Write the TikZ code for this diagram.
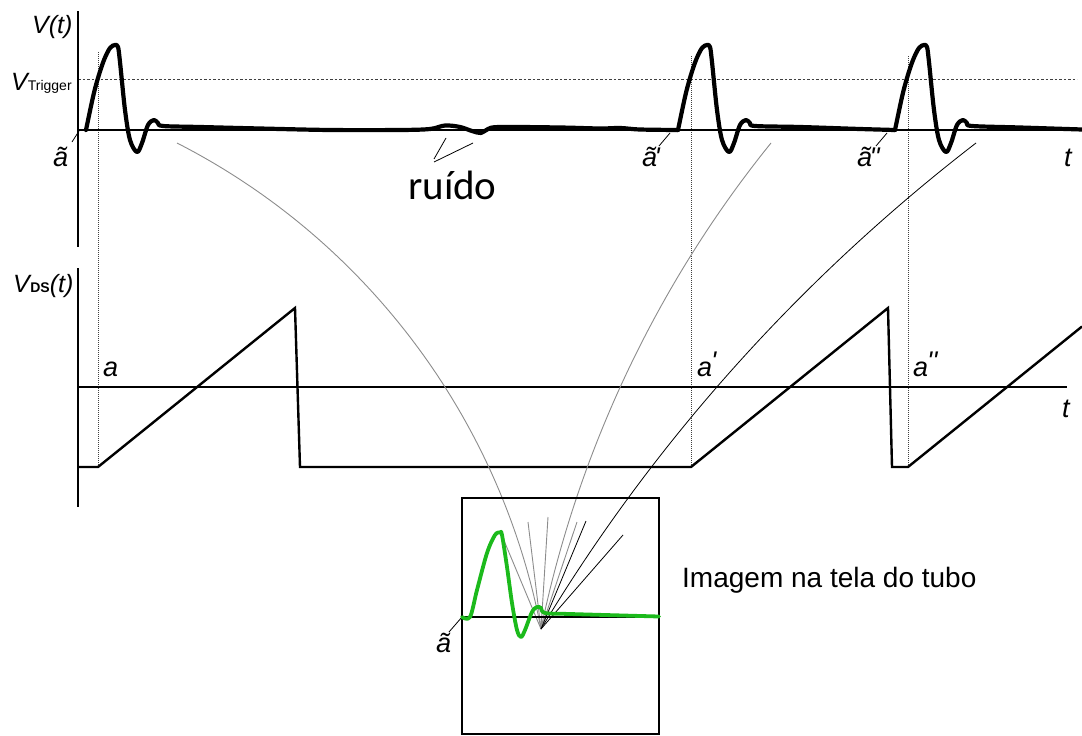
\documentclass[tikz,border=0pt]{standalone}
\usepackage{fontspec}
\setmainfont[Ligatures=TeXOff]{Liberation Sans}
\newfontfamily\ruidofont{Carlito}
\definecolor{scr}{RGB}{28,186,28}
\begin{document}
\begin{tikzpicture}[x=1pt,y=-1pt,
  axis/.style={line width=2pt},
  trace/.style={line width=4.2pt, line join=round, line cap=round},
  saw/.style={line width=2.4pt, line join=miter},
  guide/.style={line width=0.9pt, dash pattern=on 1pt off 1pt, black!75},
  trig/.style={line width=0.9pt, dash pattern=on 2.5pt off 2pt, black!75},
  ray/.style={line width=0.9pt, black!45},
  rayk/.style={line width=0.8pt, black},
  lead/.style={line width=0.8pt},
  lbl/.style={font=\fontsize{25}{25}\selectfont\itshape, inner sep=0pt, anchor=base west},
  lbs/.style={font=\fontsize{27}{27}\selectfont\itshape, inner sep=0pt, anchor=base west}
]
\useasboundingbox (0,0) rectangle (1082,736);
% guides
\coordinate (g1t) at (98,52);  \coordinate (g1b) at (98,467);
\coordinate (g2t) at (691,56); \coordinate (g2b) at (691,467);
\coordinate (g3t) at (908,56); \coordinate (g3b) at (908,467);
\draw[guide] (g1t) -- (g1b);
\draw[guide] (g2t) -- (g2b);
\draw[guide] (g3t) -- (g3b);
\coordinate (trL) at (78,79); \coordinate (trR) at (1077,79);
\draw[trig] (trL) -- (trR);
% axes
\coordinate (ax1t) at (78,11); \coordinate (ax1b) at (78,247);
\coordinate (ax1l) at (78,130); \coordinate (ax1r) at (1082,130);
\draw[axis] (ax1t) -- (ax1b);
\draw[axis] (ax1l) -- (ax1r);
\coordinate (ax2t) at (78,268); \coordinate (ax2b) at (78,507);
\coordinate (ax2l) at (78,387); \coordinate (ax2r) at (1067,387);
\draw[axis] (ax2t) -- (ax2b);
\draw[axis] (ax2l) -- (ax2r);
% sawtooth
\draw[saw] (78,467) -- (98,467) -- (295,308) -- (300,467) -- (691,467) -- (888,308) -- (892,467) -- (908,467) -- (1082,326.5);
% top trace
\draw[trace] plot[smooth, tension=0.55] coordinates {(86,130) (93,97) (98,78) (104,60) (110,48) (115,45) (118,47) (120,62) (125,110) (130,140) (137,152) (142,143) (148,125) (154,120) (158,123) (163,126) (200,127) (260,128.5) (330,130) (400,130) (430,129) (445,125.5) (460,127) (472,131) (481,133) (488,129) (500,127) (560,127.5) (600,128.5) (620,128) (640,129.5) (678,130)};
\draw[trace] plot[smooth, tension=0.55] coordinates {(678,130) (685,97) (690,78) (696,60) (702,48) (707,45) (710,47) (712,62) (717,110) (722,140) (729,152) (734,143) (740,125) (746,120) (750,123) (755,126) (800,127) (860,129) (895,130)};
\draw[trace] plot[smooth, tension=0.55] coordinates {(895,130) (902,97) (907,78) (913,60) (919,48) (924,45) (927,47) (929,62) (934,110) (939,140) (946,152) (951,143) (957,125) (963,120) (967,123) (972,126) (1020,127.5) (1082,129.5)};
% labels
\node[lbl] (vt) at (32,33) {V(t)};
\node[lbl] (vtrig) at (11,90) {V{\fontsize{14}{14}\selectfont\upshape Trigger}};
\node[lbl] (vds) at (13,292) {V\kern0.5pt{\fontsize{14}{14}\selectfont\upshape\bfseries DS}(t)};
\node[lbs] (at0) at (53,166) {ã};
\node[lbs] (at1) at (642,166) {ã\kern-0.1em'};
\node[lbs] (at2) at (857,166) {ã\kern-0.1em''};
\node[lbs] (t1) at (1064,166) {t};
\node[lbs] (a0) at (103,376) {a};
\node[lbs] (a1) at (697,376) {a\kern-0.04em\raisebox{0.22em}{'}};
\node[lbs] (a2) at (913,376) {a\kern-0.04em\raisebox{0.22em}{''}};
\node[lbs] (t2) at (1062,417) {t};
\node[anchor=base west, inner sep=0pt, font=\ruidofont\fontsize{41}{41}\selectfont] (ruido) at (408,199) {ruído};
\node[anchor=base west, inner sep=0pt, font=\fontsize{28}{28}\selectfont] (img) at (682,587) {Imagem na tela do tubo};
\node[lbs] (at3) at (436,652) {ã};
% leader lines
\coordinate (l0a) at (72,142); \coordinate (l0b) at (79,131);
\coordinate (l1a) at (659,146); \coordinate (l1b) at (670,133);
\coordinate (l2a) at (876,146); \coordinate (l2b) at (887,133);
\coordinate (l3a) at (449,632); \coordinate (l3b) at (462,617);
\draw[lead] (l0a) -- (l0b);
\draw[lead] (l1a) -- (l1b);
\draw[lead] (l2a) -- (l2b);
\draw[lead] (l3a) -- (l3b);
\coordinate (n1) at (446,138); \coordinate (n2) at (434,159);
\coordinate (n3) at (473,143); \coordinate (n4) at (434,162);
\draw[lead] (n1) -- (n2);
\draw[lead] (n3) -- (n4);
% rays
\coordinate (conv) at (541,629);
\coordinate (p1) at (177,143); \coordinate (p2) at (771,143); \coordinate (p3) at (976,143);
\draw[ray] (p1) .. controls (367,240) and (501,420) .. (conv);
\draw[ray] (p2) .. controls (657,284) and (578,451) .. (conv);
\draw[rayk] (p3) .. controls (802,277) and (654,441) .. (conv);
\coordinate (f1) at (500,531); \coordinate (f2) at (528,522);
\coordinate (f3) at (548,517); \coordinate (f4) at (577,522);
\coordinate (f5) at (586,521); \coordinate (f6) at (623,535);
\foreach \f in {f1,f2,f3,f4} \draw[ray] (\f) -- (conv);
\foreach \f in {f5,f6} \draw[rayk] (\f) -- (conv);
% screen
\draw[axis] (462,498) rectangle (659,734);
\coordinate (sl) at (462,617); \coordinate (sr) at (659,617);
\draw[axis] (sl) -- (sr);
\draw[line width=3.8pt, scr, line join=round, line cap=round] plot[smooth, tension=0.55] coordinates {(462,617) (470,617) (477,590) (487,553) (495,535) (500,532.5) (502,535) (507,567) (512,603) (517,630) (521,637) (525,630) (532,612) (537,607) (541,608) (545,613) (570,614) (659,616.5)};
\end{tikzpicture}
\end{document}
